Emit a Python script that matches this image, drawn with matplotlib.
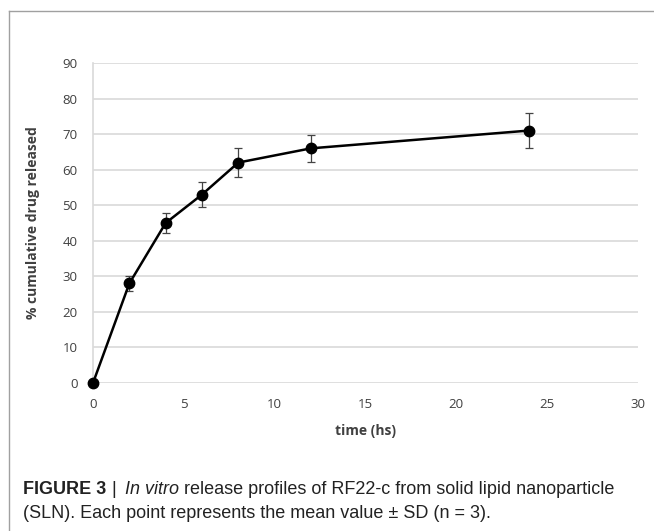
import matplotlib.pyplot as plt
from matplotlib.lines import Line2D

# release data
time_hs = [0, 2, 4, 6, 8, 12, 24]
released = [0, 28, 45, 53, 62, 66, 71]
sd = [0, 2, 2.8, 3.5, 4, 3.8, 5]

x_ticks = [0, 5, 10, 15, 20, 25, 30]
y_ticks = [0, 10, 20, 30, 40, 50, 60, 70, 80, 90]

W, H = 654, 531
fig = plt.figure(figsize=(W / 100, H / 100), dpi=100)
ax = fig.add_axes([93 / W, 1 - 383 / H, (638 - 93) / W, (383 - 63) / H])

ax.errorbar(time_hs, released, yerr=sd, color='black', lw=1.8,
            marker='o', markersize=7.5, ecolor='#444444', elinewidth=0.9,
            capsize=3, capthick=0.9, zorder=3, clip_on=False)

ax.set_xlim(0, 30)
ax.set_ylim(0, 90)
ax.set_xticks(x_ticks)
ax.set_yticks(y_ticks)
ax.tick_params(length=0, labelsize=9.5, colors='#404040', pad=11)
ax.grid(axis='y', color='#d9d9d9', lw=1.2)
ax.set_axisbelow(True)
for s in ['top', 'right', 'bottom']:
    ax.spines[s].set_visible(False)
ax.spines['left'].set_color('#d9d9d9')
ax.spines['left'].set_linewidth(1.2)
for lbl in ax.get_xticklabels() + ax.get_yticklabels():
    lbl.set_fontfamily('Open Sans')

ax.set_xlabel('time (hs)', fontsize=10, fontweight='bold', family='Open Sans',
              color='#404040', labelpad=9)
ax.set_ylabel('% cumulative drug released', fontsize=10, fontweight='bold',
              family='Open Sans', color='#404040', labelpad=16)

# frame around the figure panel
fig.add_artist(Line2D([9 / W, 9 / W], [0, 1 - 11 / H], color='#a0a0a0', lw=1))
fig.add_artist(Line2D([9 / W, 1], [1 - 11 / H, 1 - 11 / H], color='#a0a0a0', lw=1))

# caption
cap = dict(fontsize=13, va='center', family='Liberation Sans', color='#222222')
y1 = 1 - 489 / H
fig.text(23 / W, y1, 'FIGURE 3', fontweight='bold', **cap)
fig.text(111 / W, y1, '|', **cap)
t = fig.text(125 / W, y1, 'In vitro', style='italic', **cap)
renderer = fig.canvas.get_renderer()
x_end = t.get_window_extent(renderer).x1
fig.text(x_end / W, y1, ' release profiles of RF22-c from solid lipid nanoparticle', **cap)
fig.text(23 / W, 1 - 513 / H,
         '(SLN). Each point represents the mean value \u00b1 SD (n = 3).', **cap)

fig.savefig('out.png', dpi=100)
